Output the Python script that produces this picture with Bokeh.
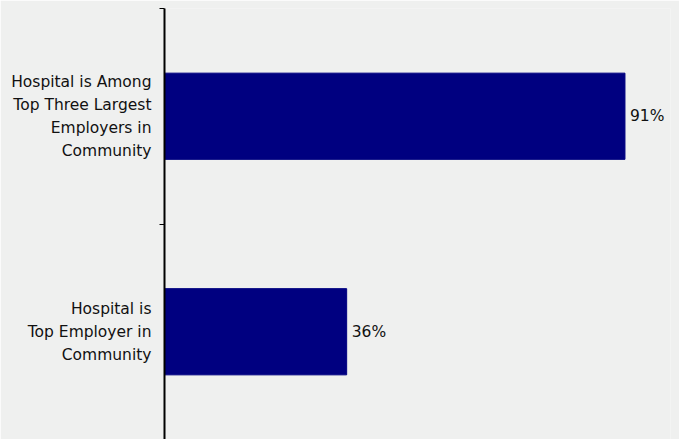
from bokeh.plotting import figure
from bokeh.models import FixedTicker, Range1d, ColumnDataSource
from bokeh.embed import file_html
from bokeh.resources import INLINE
from bokeh.core.properties import value

categories = ["Hospital is\nTop Employer in\nCommunity",
              "Hospital is Among\nTop Three Largest\nEmployers in\nCommunity"]
values = [36, 91]
labels = ["36%", "91%"]
positions = [0.5, 1.5]

src = ColumnDataSource(dict(y=positions, v=values, lab=labels))

p = figure(width=679, height=439, output_backend="svg", toolbar_location=None,
           x_range=Range1d(0, 100), y_range=Range1d(0, 2),
           min_border_left=164, min_border_right=9, min_border_top=8, min_border_bottom=0,
           background_fill_color="#eff0ef", border_fill_color="#eff0ef",
           x_axis_location=None)
p.outline_line_color = None
p.xgrid.visible = False
p.ygrid.visible = False

p.hbar(y="y", right="v", left=0, height=0.4, source=src, color="#000080")
p.text(x="v", y="y", text="lab", source=src, x_offset=5, text_baseline="middle",
       text_align="left", text_font=value("DejaVu Sans"), text_font_size="15.5px",
       text_color="#111111")

ax = p.yaxis[0]
ax.ticker = FixedTicker(ticks=positions, minor_ticks=[0, 1, 2])
ax.major_label_overrides = {positions[i]: categories[i] for i in range(2)}
ax.major_tick_line_color = None
ax.major_tick_out = 0
ax.major_tick_in = 0
ax.minor_tick_out = 5
ax.minor_tick_in = 0
ax.minor_tick_line_color = "black"
ax.axis_line_color = "black"
ax.axis_line_width = 2
ax.major_label_standoff = 8
ax.major_label_text_font = "DejaVu Sans"
ax.major_label_text_font_size = "15.5px"
ax.major_label_text_color = "#111111"
ax.major_label_text_align = "right"
ax.major_label_text_line_height = 1.27

open("out.html", "w").write(file_html(p, INLINE))
